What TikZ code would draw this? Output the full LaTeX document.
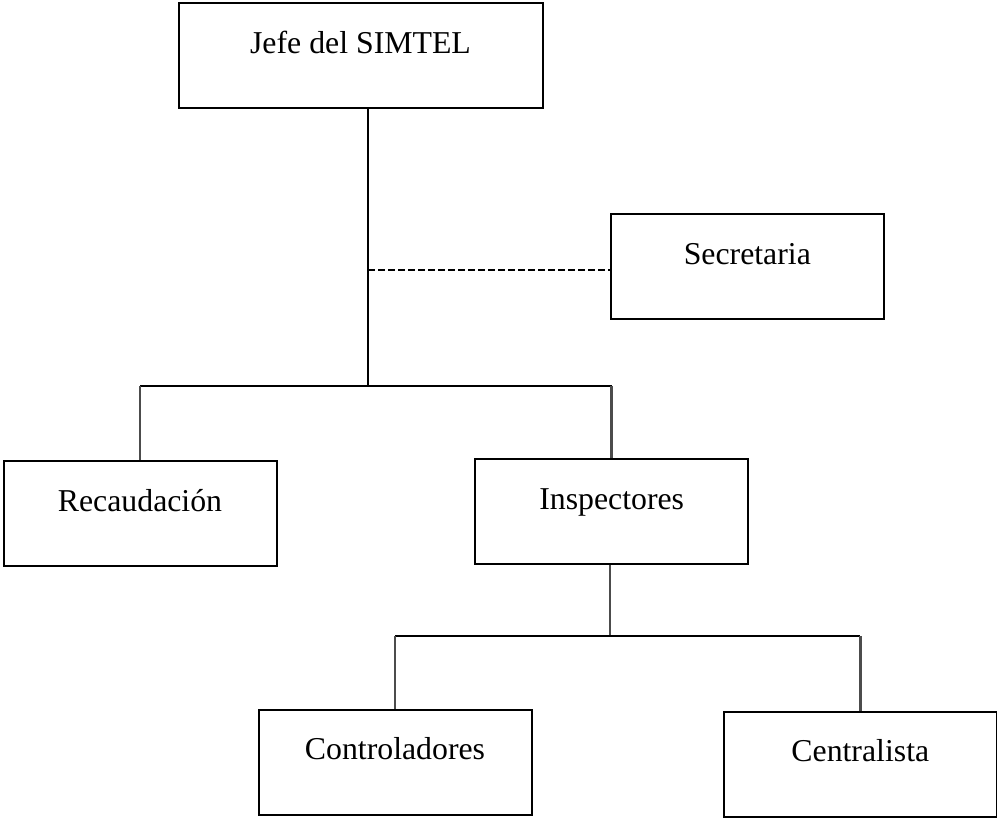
\documentclass[tikz,border=0pt]{standalone}
\usepackage{fontspec}
\setmainfont{Liberation Serif}
\usepackage{tikz}
\usetikzlibrary{calc}

\begin{document}
\begin{tikzpicture}[x=0.5pt,y=-0.5pt,
        cargo/.style={draw, line width=1pt, inner sep=0pt, minimum width=136.5pt,
            text height=25pt, text depth=27.5pt, font=\fontsize{15.9}{19}\selectfont},
        linea/.style={line width=1pt},
        bajada/.style={line width=1.3pt, black!70}]
        \useasboundingbox (0,0) rectangle (997,818);

        % Cargos
        \node[cargo, minimum width=182pt] (jefe) at (360.5,56) {Jefe del SIMTEL};
        \node[cargo] (sec) at (747.3,267) {Secretaria};
        \node[cargo] (rec) at (140,513.5) {Recaudación};
        \node[cargo] (insp) at (611.7,511.7) {Inspectores};
        \node[cargo] (contr) at (395,762) {Controladores};
        \node[cargo] (cent) at (860.3,764) {Centralista};

        % Nudos de las lineas
        \coordinate (tronco) at (368,386);
        \coordinate (nudo) at (610,636);

        % Jefe -> Recaudacion e Inspectores
        \draw[linea] (jefe.south -| tronco) -- (tronco);
        \draw[linea, dash pattern=on 3.5pt off 1.5pt] (tronco |- 0,270) -- (sec.west |- 0,270); % Secretaria (staff)
        \draw[linea] (rec.north |- tronco) -- (insp.north |- tronco);
        \draw[bajada] (rec.north |- tronco) -- (rec.north);
        \draw[bajada] (insp.north |- tronco) -- (insp.north);

        % Inspectores -> Controladores y Centralista
        \draw[bajada] (insp.south -| nudo) -- (nudo);
        \draw[linea] (contr.north |- nudo) -- (cent.north |- nudo);
        \draw[bajada] (contr.north |- nudo) -- (contr.north);
        \draw[bajada] (cent.north |- nudo) -- (cent.north);
    \end{tikzpicture}
\end{document}
